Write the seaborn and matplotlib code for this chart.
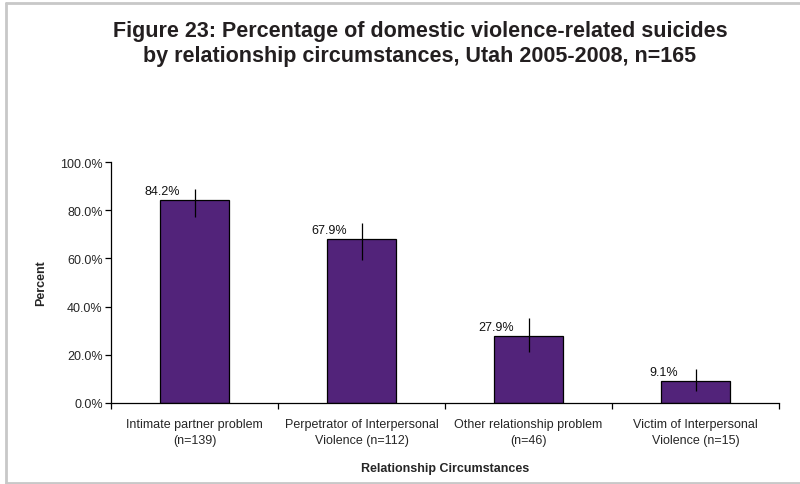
import matplotlib
matplotlib.use("Agg")
import matplotlib.pyplot as plt
import matplotlib.ticker as mticker
from matplotlib.lines import Line2D
import seaborn as sns
import pandas as pd

categories = ["Intimate partner problem\n(n=139)",
              "Perpetrator of Interpersonal\nViolence (n=112)",
              "Other relationship problem\n(n=46)",
              "Victim of Interpersonal\nViolence (n=15)"]
percents = [84.2, 67.9, 27.9, 9.1]
ci_low = [77.0, 59.5, 21.1, 5.1]
ci_high = [88.9, 74.7, 35.1, 14.3]
value_labels = ["84.2%", "67.9%", "27.9%", "9.1%"]
y_ticks = [0, 20, 40, 60, 80, 100]

title = ("Figure 23: Percentage of domestic violence-related suicides\n"
         "by relationship circumstances, Utah 2005-2008, n=165")

sns.set_theme(style="white")
plt.rcParams['font.family'] = ['Liberation Sans', 'DejaVu Sans']

df = pd.DataFrame({"cat": categories, "pct": percents})

W, H = 800, 485
fig = plt.figure(figsize=(8, 4.85), dpi=100)
ax = fig.add_axes([111 / W, (H - 404) / H, (779 - 111) / W, (404 - 163) / H])

sns.barplot(data=df, x="cat", y="pct", color="#52237a", saturation=1,
            edgecolor="black", linewidth=0.9, width=0.41, errorbar=None, ax=ax)

xs = list(range(len(categories)))
ax.vlines(xs, ci_low, ci_high, color="black", linewidth=0.9, zorder=5)

for x, p, lab in zip(xs, percents, value_labels):
    ax.annotate(lab, (x, p), xytext=(-32, 9), textcoords="offset pixels",
                ha="center", va="center", fontsize=9, color="#111111")

ax.set_xlim(-0.5, len(categories) - 0.5)
ax.set_ylim(0, 100)
ax.set_yticks(y_ticks)
ax.yaxis.set_major_formatter(mticker.FuncFormatter(lambda v, _: f"{v:.1f}%"))

ax.set_xticks([i - 0.5 for i in range(len(categories) + 1)])
ax.set_xticklabels([])
ax.set_xticks(xs, minor=True)
ax.set_xticklabels(categories, minor=True, fontsize=9, linespacing=1.45)
ax.tick_params(axis="x", which="major", direction="out", length=4, width=0.9, color="black", bottom=True)
ax.tick_params(axis="x", which="minor", length=0, pad=11)
ax.tick_params(axis="y", direction="out", length=4, width=0.9, color="black", left=True, labelsize=9, pad=2)

for s in ["top", "right"]:
    ax.spines[s].set_visible(False)
for s in ["left", "bottom"]:
    ax.spines[s].set_color("black")
    ax.spines[s].set_linewidth(0.9)

ax.set_ylabel("Percent", fontsize=9, fontweight="bold", labelpad=9)
ax.set_xlabel("Relationship Circumstances", fontsize=9, fontweight="bold", labelpad=11)

fig.text(0.525, 1 - 44 / H, title, ha="center", va="center", fontsize=15.5,
         fontweight="bold", color="#231f20", linespacing=1.3)

bc = "#c8c8c8"
x0, y_top, y_bot = 5.5 / W, 1 - 3.5 / H, 1 - 483.5 / H
fig.add_artist(Line2D([x0, x0], [y_bot, y_top], transform=fig.transFigure, color=bc, linewidth=2))
fig.add_artist(Line2D([x0, 1.0], [y_top, y_top], transform=fig.transFigure, color=bc, linewidth=2))
fig.add_artist(Line2D([x0, 1.0], [y_bot, y_bot], transform=fig.transFigure, color=bc, linewidth=2))

fig.savefig("out.png", dpi=100)
